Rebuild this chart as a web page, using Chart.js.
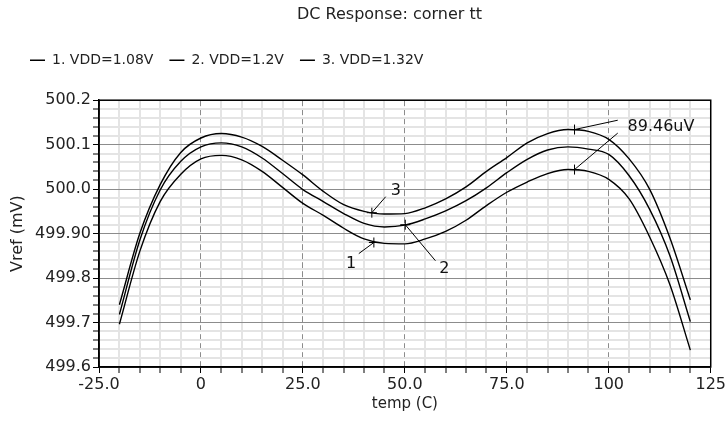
<!DOCTYPE html>
<html>
<head>
<meta charset="utf-8">
<script src="https://cdn.jsdelivr.net/npm/chart.js@4.4.1/dist/chart.umd.min.js"></script>
<style>
  html, body { margin: 0; padding: 0; background: #fff; }
  #wrap { width: 728px; height: 421px; }
</style>
</head>
<body>
<div id="wrap"><canvas id="grafica"></canvas></div>
<script>
// temperatura (C)
const temps = [-20, -15, -10, -5, 0, 5, 10, 15, 20, 25, 30, 35, 40, 45, 50,
               55, 60, 65, 70, 75, 80, 85, 90, 95, 100, 105, 110, 115, 120];

// Vref (mV) por VDD
const vdd108 = [499.696, 499.860, 499.972, 500.033, 500.068, 500.076, 500.066, 500.040, 500.004, 499.968,
                499.941, 499.912, 499.888, 499.878, 499.877, 499.888, 499.905, 499.930, 499.963, 499.993,
                500.016, 500.035, 500.044, 500.040, 500.022, 499.978, 499.893, 499.785, 499.638];
const vdd120 = [499.718, 499.885, 499.998, 500.062, 500.095, 500.104, 500.095, 500.070, 500.035, 499.999,
                499.972, 499.945, 499.923, 499.915, 499.919, 499.933, 499.951, 499.974, 500.003, 500.037,
                500.067, 500.088, 500.095, 500.090, 500.078, 500.030, 499.955, 499.850, 499.702];
const vdd132 = [499.740, 499.900, 500.010, 500.082, 500.115, 500.125, 500.117, 500.096, 500.065, 500.032,
                499.995, 499.965, 499.950, 499.944, 499.945, 499.958, 499.978, 500.005, 500.040, 500.071,
                500.104, 500.125, 500.134, 500.130, 500.112, 500.068, 500.000, 499.890, 499.751];

const seriesNames = ["1. VDD=1.08V", "2. VDD=1.2V", "3. VDD=1.32V"];

const xTickValues = [-25, 0, 25, 50, 75, 100, 125];
const xTickLabels = ["-25.0", "0", "25.0", "50.0", "75.0", "100", "125"];
const yTickValues = [499.6, 499.7, 499.8, 499.9, 500.0, 500.1, 500.2];
const yTickLabels = ["499.6", "499.7", "499.8", "499.90", "500.0", "500.1", "500.2"];

// marcadores de curva
const marcaTemps   = [41.9, 42.4, 50.1];
const marcaValores = [499.947, 499.880, 499.920];
const marcaTextos  = ["3", "1", "2"];
const marcaFinT    = [45.3, 38.7, 57.5];
const marcaFinV    = [499.983, 499.855, 499.839];
const marcaTxtT    = [47.8, 36.8, 59.7];
const marcaTxtV    = [499.997, 499.832, 499.821];

// delta entre curva 3 y curva 1
const deltaTemp = 91.6;
const deltaValores = [500.134, 500.044];
const deltaFinT = 102.2;
const deltaFinV = [500.155, 500.126];
const deltaTexto = "89.46uV";
const deltaTxtT = 104.6;
const deltaTxtV = 500.139;

const fuente = "'DejaVu Sans', sans-serif";

function xIndex(v) {
    const r = Math.round(v * 1000) / 1000;
    return xTickValues.findIndex(t => Math.abs(t - r) < 1e-6);
}
function yIndex(v) {
    const r = Math.round(v * 1000) / 1000;
    return yTickValues.findIndex(t => Math.abs(t - r) < 1e-6);
}

const data = {
    labels: temps,
    datasets: [vdd108, vdd120, vdd132].map((serie, i) => ({
        label: seriesNames[i],
        data: temps.map((t, k) => ({x: t, y: serie[k]})),
        borderColor: "#000",
        backgroundColor: "#000",
        borderWidth: 1.4,
        pointRadius: 0,
        tension: 0.4,
        cubicInterpolationMode: "monotone"
    }))
};

const marco = {
    id: "marco",
    beforeLayout(chart) {
        const lg = chart.legend;
        if (lg && !lg._extra) {
            const fit = lg.fit;
            lg.fit = function () { fit.call(this); this.height += 23; };
            lg._extra = true;
        }
    },
    afterLayout(chart) {
        chart.legend.left += 14;
        chart.legend.right += 14;
        chart.titleBlock.left += 33;
        chart.titleBlock.right += 33;
    },
    afterDatasetsDraw(chart) {
        const {ctx, chartArea: a, scales: {x, y}} = chart;
        ctx.save();
        ctx.strokeStyle = "#000";
        ctx.lineWidth = 1.5;
        ctx.strokeRect(a.left, a.top, a.right - a.left, a.bottom - a.top);

        const cruz = (px, py) => {
            ctx.beginPath();
            ctx.moveTo(px - 5, py); ctx.lineTo(px + 5, py);
            ctx.moveTo(px, py - 5); ctx.lineTo(px, py + 5);
            ctx.stroke();
        };
        ctx.lineWidth = 1;
        ctx.fillStyle = "#111";
        ctx.font = "16px " + fuente;
        ctx.textBaseline = "middle";
        ctx.textAlign = "center";
        marcaTemps.forEach((t, i) => {
            const px = x.getPixelForValue(t), py = y.getPixelForValue(marcaValores[i]);
            cruz(px, py);
            ctx.beginPath();
            ctx.moveTo(px, py);
            ctx.lineTo(x.getPixelForValue(marcaFinT[i]), y.getPixelForValue(marcaFinV[i]));
            ctx.stroke();
            ctx.fillText(marcaTextos[i], x.getPixelForValue(marcaTxtT[i]), y.getPixelForValue(marcaTxtV[i]));
        });

        deltaValores.forEach((v, i) => {
            const px = x.getPixelForValue(deltaTemp), py = y.getPixelForValue(v);
            cruz(px, py);
            ctx.beginPath();
            ctx.moveTo(px, py);
            ctx.lineTo(x.getPixelForValue(deltaFinT), y.getPixelForValue(deltaFinV[i]));
            ctx.stroke();
        });
        ctx.textAlign = "left";
        ctx.fillText(deltaTexto, x.getPixelForValue(deltaTxtT), y.getPixelForValue(deltaTxtV));
        ctx.restore();
    }
};

const config = {
    type: "line",
    data: data,
    plugins: [marco],
    options: {
        responsive: true,
        maintainAspectRatio: false,
        animation: false,
        layout: { padding: { left: 0, right: 15, top: 0, bottom: 8 } },
        plugins: {
            title: {
                display: true,
                text: "DC Response: corner tt",
                color: "#222",
                font: { family: fuente, size: 16, weight: "normal" },
                padding: { top: 5, bottom: 13 }
            },
            legend: {
                display: true,
                align: "start",
                labels: {
                    color: "#222",
                    font: { family: fuente, size: 14 },
                    usePointStyle: true,
                    pointStyle: "line",
                    pointStyleWidth: 15,
                    boxHeight: 14,
                    padding: 16
                }
            },
            tooltip: { enabled: false }
        },
        scales: {
            x: {
                type: "linear",
                min: -25,
                max: 125,
                afterFit(scale) { scale.height = 46; },
                title: {
                    display: true,
                    text: "temp (C)",
                    color: "#222",
                    font: { family: fuente, size: 15 },
                    padding: { top: 0, bottom: 0 }
                },
                ticks: {
                    stepSize: 5,
                    autoSkip: false,
                    maxRotation: 0,
                    color: "#222",
                    padding: 2,
                    font: { family: fuente, size: 16 },
                    callback: (v) => { const i = xIndex(v); return i >= 0 ? xTickLabels[i] : ""; }
                },
                grid: {
                    color: (c) => (c.tick && xIndex(c.tick.value) >= 0) ? "#8c8c8c" : "#e4e4e4",
                    lineWidth: (c) => (c.tick && xIndex(c.tick.value) >= 0) ? 1 : 2,
                    tickColor: "#000",
                    tickLength: 6,
                    tickWidth: 1
                },
                border: {
                    color: "#000",
                    width: 1.5,
                    dash: (c) => (c.tick && xIndex(c.tick.value) >= 0) ? [6, 3] : []
                }
            },
            y: {
                type: "linear",
                min: 499.6,
                max: 500.2,
                afterFit(scale) { scale.width = 99; },
                title: {
                    display: true,
                    text: "Vref (mV)",
                    color: "#222",
                    font: { family: fuente, size: 16 },
                    padding: { top: 8, bottom: 0 }
                },
                ticks: {
                    stepSize: 0.02,
                    autoSkip: false,
                    color: "#222",
                    padding: 2,
                    font: { family: fuente, size: 16 },
                    callback: (v) => { const i = yIndex(v); return i >= 0 ? yTickLabels[i] : ""; }
                },
                grid: {
                    color: (c) => (c.tick && yIndex(c.tick.value) >= 0) ? "#8c8c8c" : "#e4e4e4",
                    lineWidth: (c) => (c.tick && yIndex(c.tick.value) >= 0) ? 1 : 2,
                    tickColor: "#000",
                    tickLength: 6,
                    tickWidth: 1
                },
                border: { color: "#000", width: 1.5 }
            }
        }
    }
};

const ctx = document.querySelector("#grafica");
const graficaVref = new Chart(ctx, config);
</script>
</body>
</html>
